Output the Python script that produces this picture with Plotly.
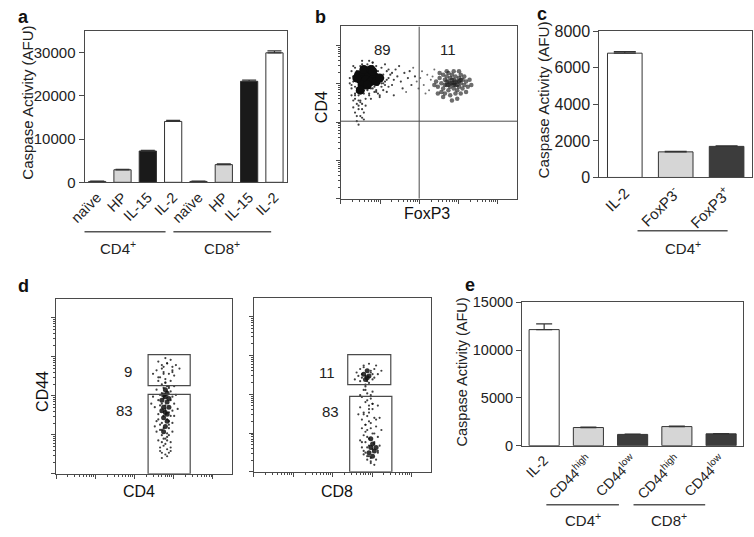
import math
import plotly.graph_objects as go

W, H = 754, 537
FONT = "Liberation Sans, Arial, Helvetica, sans-serif"
LINE = "#4a4a4a"

# ---------------- data ----------------
# Panel a
a_labels = ["naïve", "HP", "IL-15", "IL-2", "naïve", "HP", "IL-15", "IL-2"]
a_values = [200, 2900, 7250, 14100, 200, 4100, 23400, 30000]
a_errors = [60, 120, 150, 250, 60, 150, 300, 450]
a_colors = ["#ffffff", "#d6d6d6", "#1a1a1a", "#ffffff"] * 2
a_groups = ["CD4<sup>+</sup>", "CD8<sup>+</sup>"]
a_ticks = [0, 10000, 20000, 30000]

# Panel c
c_labels = ["IL-2", "FoxP3<sup>-</sup>", "FoxP3<sup>+</sup>"]
c_values = [6800, 1400, 1700]
c_errors = [90, 25, 30]
c_colors = ["#ffffff", "#d6d6d6", "#3c3c3c"]
c_groups = ["CD4<sup>+</sup>"]
c_ticks = [0, 2000, 4000, 6000, 8000]

# Panel e
e_labels = ["IL-2", "CD44<sup>high</sup>", "CD44<sup>low</sup>", "CD44<sup>high</sup>", "CD44<sup>low</sup>"]
e_values = [12150, 1900, 1180, 2000, 1240]
e_errors = [600, 40, 30, 40, 30]
e_colors = ["#ffffff", "#d6d6d6", "#3c3c3c", "#d6d6d6", "#3c3c3c"]
e_groups = ["CD4<sup>+</sup>", "CD8<sup>+</sup>"]
e_ticks = [0, 5000, 10000, 15000]

y_title = "Caspase Activity (AFU)"

# Panel b (flow: FoxP3 vs CD4), display units 0-100
b_quad_x, b_quad_y = 44.4, 45
b_pct = ["89", "11"]
b_pct_x = [23.3, 60.5]
b_pct_y = [86.5, 86.5]
b_core_x = [10, 13, 16, 19, 11, 14, 17, 20, 12, 15, 9, 22, 13, 17, 11, 18]
b_core_y = [72, 73, 72, 71, 69, 69, 68, 68, 66, 66, 70, 70, 75, 75, 63, 74]
b_neg_x = [6, 7, 8, 9, 10, 8, 9, 10, 8, 11, 12, 7, 11, 13, 14, 12, 10, 15, 16, 18, 20, 23, 24, 25, 26, 27,
           23, 20, 15, 11, 8, 5, 6, 28, 30, 32, 34, 36, 38, 40, 42, 31, 35, 39, 29, 18, 12, 9, 10, 13, 7, 30,
           26, 22, 33, 9, 11, 14, 6, 8, 24, 21, 17, 25, 27, 29, 19, 16, 5, 12,
           7, 9, 12, 15, 18, 21, 24, 6, 10, 14, 19, 23, 26, 8, 11, 16, 20, 25, 9, 13, 17, 22, 27, 7, 12,
           18, 24, 10, 15, 21]
b_neg_y = [74, 68, 65, 62, 60, 58, 55, 52, 50, 48, 55, 57, 62, 61, 58, 52, 57, 63, 61, 64, 63, 65, 72, 68, 74, 70,
           76, 77, 78, 77, 76, 70, 64, 72, 69, 71, 68, 73, 70, 66, 71, 75, 64, 74, 66, 79, 80, 45, 43, 46, 53, 60,
           62, 60, 77, 64, 56, 54, 60, 61, 67, 66, 64, 78, 65, 73, 62, 80, 67, 47,
           71, 74, 67, 76, 77, 74, 70, 66, 63, 64, 65, 67, 69, 60, 57, 60, 62, 66, 48, 50, 58, 59, 75, 77, 78,
           79, 63, 54, 71, 61]
b_pos_x = [54, 55, 56, 57, 58, 58, 59, 60, 60, 61, 61, 62, 62, 63, 63, 64, 64, 65, 65, 66, 66, 67, 67, 68, 68,
           69, 69, 70, 71, 72, 73, 57, 59, 62, 65, 68, 71, 56, 60, 64, 67, 55, 53, 74, 70, 66, 58, 63, 61, 59,
           62, 64, 66, 60, 63, 65, 67, 61, 68, 64]
b_pos_y = [68, 65, 70, 67, 64, 72, 69, 66, 71, 63, 68, 70, 65, 67, 72, 64, 69, 66, 71, 68, 63, 70, 65, 67, 72,
           64, 69, 66, 68, 65, 69, 62, 61, 60, 61, 61, 62, 73, 74, 74, 74, 61, 66, 66, 71, 58, 59, 57, 73, 66,
           67, 66, 66, 68, 69, 68, 68, 66, 69, 67]
b_mid_x = [45, 47, 49, 51, 44, 46, 48, 50, 52, 43, 37, 41, 53]
b_mid_y = [70, 66, 72, 69, 64, 74, 61, 63, 71, 68, 62, 76, 75]

# Panel d (flow: CD4 or CD8 vs CD44), display units 0-100
d_pct = [["9", "83"], ["11", "83"]]
d_pct_x = [[40.6, 38.9], [41.4, 43.1]]
d_pct_y = [[58.6, 35.9], [57.2, 34.4]]
d_gates = [[(52.2, 76.1, 50.3, 68.0), (52.2, 76.1, 0, 45.3)],
           [(53.0, 77.3, 50.0, 67.2), (54.1, 77.9, 0, 43.3)]]
d1_core_x = [62, 63, 61, 62, 63, 60, 64, 61, 63, 62, 60, 64, 62, 61, 63, 61]
d1_core_y = [44, 41, 38, 35, 46, 42, 38, 32, 30, 48, 36, 43, 27, 24, 34, 45]
d1_x = [58, 60, 63, 66, 57, 61, 64, 67, 59, 62, 65, 60, 63, 66, 55, 68, 70, 62, 65, 58, 61,
        57, 60, 65, 66, 58, 67, 59, 66, 58, 65, 57, 66, 59, 64, 60, 63, 58, 65, 61, 63, 60, 62,
        64, 59, 67, 56, 68, 55, 61, 62, 64, 59, 57, 66, 69, 54, 60, 63, 65, 58, 62, 67, 56, 64,
        60, 62, 64, 61, 63, 59, 65, 62, 60, 64, 61, 63, 62, 60, 65, 59, 63, 61, 64, 62, 58, 66,
        60, 63, 61, 62, 64, 60, 63, 61]
d1_y = [64, 62, 63, 61, 59, 58, 57, 56, 55, 54, 53, 51, 50, 59, 57, 62, 60, 66, 65, 53, 61,
        48, 46, 47, 44, 42, 40, 39, 36, 34, 33, 30, 29, 28, 26, 22, 21, 19, 18, 16, 14, 12, 11,
        22, 25, 33, 38, 45, 44, 20, 17, 12, 15, 24, 24, 37, 40, 9, 10, 13, 31, 52, 50, 27, 49,
        40, 37, 35, 33, 31, 45, 42, 39, 29, 28, 26, 23, 20, 18, 15, 13, 47, 49, 50, 52, 55, 58,
        60, 63, 43, 36, 30, 25, 19, 57]
d2_core_x = [62, 65, 63, 64, 66, 68, 67, 65, 69, 67, 66, 64]
d2_core_y = [56, 55, 53, 58, 14, 12, 16, 11, 14, 9, 19, 54]
d2_x = [58, 60, 61, 66, 67, 62, 65, 60, 68, 59, 70, 63, 57, 69, 72,
        62, 64, 61, 66, 63, 65, 60, 67, 62, 64, 68, 61, 66, 63, 69, 64, 67, 62, 70, 65, 63, 68,
        64, 70, 62, 66, 69, 64, 71, 61, 65, 70, 60, 67, 63, 72, 59, 66, 68, 65, 63, 71, 60, 67,
        63, 66, 61, 64, 67, 62, 65, 68, 63, 66, 64, 67, 65, 62, 69, 63, 66, 68, 64, 61, 65, 67,
        70, 62, 64, 66, 63, 68, 65, 61]
d2_y = [57, 59, 54, 57, 53, 61, 62, 52, 59, 55, 56, 50, 53, 61, 58,
        47, 45, 43, 42, 40, 38, 37, 36, 34, 32, 31, 30, 28, 27, 26, 24, 22, 21, 20, 19, 17, 17,
        14, 11, 12, 8, 7, 9, 15, 25, 34, 38, 44, 46, 49, 24, 33, 5, 4, 29, 23, 31, 18, 39,
        55, 58, 56, 52, 56, 60, 51, 54, 47, 44, 41, 39, 36, 33, 30, 27, 25, 22, 20, 17, 15, 13,
        12, 10, 7, 6, 11, 16, 9, 14]

# ---------------- helpers ----------------
def dom_x(p0, p1):
    return [p0 / W, p1 / W]

def dom_y(top, bottom):
    return [1 - bottom / H, 1 - top / H]

def py(p):
    return 1 - p / H

fig = go.Figure()
annotations = []
shapes = []

axis_common = dict(showline=True, linecolor=LINE, linewidth=1, mirror=True,
                   showgrid=False, zeroline=False)

def ptext(text, x, y, size, bold=False, angle=0, color="#111"):
    annotations.append(dict(text=("<b>%s</b>" % text) if bold else text, xref="paper", yref="paper",
                            x=x / W, y=py(y), showarrow=False, xanchor="center", yanchor="middle",
                            textangle=angle, font=dict(family=FONT, size=size, color=color)))

def bar_panel(idx, labels, values, errors, colors, yticks, ymax, xdom, ydom,
              capw, tickfont, xtickfont):
    n = len(labels)
    xs = list(range(n))
    sx = "" if idx == 1 else str(idx)
    fig.add_trace(go.Bar(
        x=xs, y=values, width=0.68,
        marker=dict(color=colors, line=dict(color="#333333", width=1)),
        error_y=dict(type="data", array=errors, arrayminus=[0] * n, symmetric=False,
                     color="#333333", thickness=1.2, width=capw),
        xaxis="x" + sx, yaxis="y" + sx, showlegend=False, hoverinfo="skip"))
    fig.layout["xaxis" + sx] = dict(
        domain=xdom, anchor="y" + sx, range=[-0.5, n - 0.5],
        tickvals=xs, ticktext=labels, tickangle=-45, ticks="",
        tickfont=dict(family=FONT, size=xtickfont, color="#222"), **axis_common)
    fig.layout["yaxis" + sx] = dict(
        domain=ydom, anchor="x" + sx, range=[0, ymax], tickvals=yticks,
        ticktext=[str(v) for v in yticks],
        ticks="outside", ticklen=5, tickcolor=LINE,
        tickfont=dict(family=FONT, size=tickfont, color="#222"),
        **axis_common)

def group_lines(sx, groups, spans, line_y, label_y):
    for g, (x0, x1) in zip(groups, spans):
        shapes.append(dict(type="line", xref="x" + sx, yref="paper", x0=x0, x1=x1,
                           y0=py(line_y), y1=py(line_y), line=dict(color="#555", width=1.5)))
        annotations.append(dict(text=g, xref="x" + sx, yref="paper", x=(x0 + x1) / 2, y=py(label_y),
                                showarrow=False, xanchor="center", yanchor="middle",
                                font=dict(family=FONT, size=15, color="#222")))

# decade ticks for flow axes
dec = 22.25
majors = [dec * k for k in range(5)]
minors = [dec * k + dec * math.log10(m) for k in range(4) for m in range(2, 10)]

def flow_axes(sx, xdom, ydom):
    ax = dict(range=[0, 100], tickvals=majors, ticks="outside", ticklen=4, tickcolor=LINE,
              showticklabels=False,
              minor=dict(tickvals=minors, ticks="outside", ticklen=2, tickcolor=LINE),
              **axis_common)
    fig.layout["xaxis" + sx] = dict(domain=xdom, anchor="y" + sx, **ax)
    fig.layout["yaxis" + sx] = dict(domain=ydom, anchor="x" + sx, **ax)

def dots(sx, xs, ys, size, opacity=1.0, color="#111"):
    fig.add_trace(go.Scatter(x=xs, y=ys, mode="markers", xaxis="x" + sx, yaxis="y" + sx,
                             marker=dict(size=size, color=color, opacity=opacity, line=dict(width=0)),
                             showlegend=False, hoverinfo="skip"))

# ---- panel a ----
bar_panel(1, a_labels, a_values, a_errors, a_colors, a_ticks, 35000,
          dom_x(70, 277), dom_y(24, 180), 7, 15, 14.5)
group_lines("", a_groups, [(-1.08, 2.7), (3.01, 6.87)], 231, 247)
ptext(y_title, 12, 98, 15, angle=-90, color="#222")

# ---- panel b ----
flow_axes("2", dom_x(332, 512), dom_y(19, 197))
dots("2", b_neg_x, b_neg_y, 2.2, 0.8)
dots("2", b_mid_x, b_mid_y, 2.0, 0.6)
dots("2", b_pos_x, b_pos_y, 4.5, 0.65, "#1e1e1e")
dots("2", b_core_x, b_core_y, 9, 1.0, "#0d0d0d")
shapes.append(dict(type="line", xref="x2", yref="y2", x0=b_quad_x, x1=b_quad_x, y0=0, y1=100,
                   line=dict(color=LINE, width=1)))
shapes.append(dict(type="line", xref="x2", yref="y2", x0=0, x1=100, y0=b_quad_y, y1=b_quad_y,
                   line=dict(color=LINE, width=1)))
for t, x, y in zip(b_pct, b_pct_x, b_pct_y):
    annotations.append(dict(text=t, xref="x2", yref="y2", x=x, y=y, showarrow=False,
                            font=dict(family=FONT, size=15, color="#222")))

# ---- panel c ----
bar_panel(3, c_labels, c_values, c_errors, c_colors, c_ticks, 8000,
          dom_x(596, 752), dom_y(24, 175), 11, 16, 15)
group_lines("3", c_groups, [(0.25, 2.02)], 230, 247)
ptext(y_title, 539, 95, 15.3, angle=-90, color="#222")

# ---- panel d ----
flow_axes("4", dom_x(41, 221), dom_y(300, 481))
flow_axes("5", dom_x(243, 424), dom_y(299, 479))
dots("4", d1_x, d1_y, 2.2, 0.8)
dots("4", d1_core_x, d1_core_y, 5, 0.85)
dots("5", d2_x, d2_y, 2.2, 0.8)
dots("5", d2_core_x, d2_core_y, 5, 0.85)
for sx, gates, pt, px_, py_ in zip(["4", "5"], d_gates, d_pct, d_pct_x, d_pct_y):
    for (x0, x1, y0, y1) in gates:
        shapes.append(dict(type="rect", xref="x" + sx, yref="y" + sx, x0=x0, x1=x1, y0=y0, y1=y1,
                           line=dict(color=LINE, width=1.2)))
    for t, x, y in zip(pt, px_, py_):
        annotations.append(dict(text=t, xref="x" + sx, yref="y" + sx, x=x, y=y, showarrow=False,
                                font=dict(family=FONT, size=15, color="#222")))

# ---- panel e ----
bar_panel(6, e_labels, e_values, e_errors, e_colors, e_ticks, 15000,
          dom_x(517, 743), dom_y(304, 452), 8, 14.5, 14)
group_lines("6", e_groups, [(0.05, 1.69), (2.02, 3.64)], 513, 528)
ptext(y_title, 456, 376, 14.5, angle=-90, color="#222")

# ---- text labels ----
for letter, x, y in [("a", 8, 9), ("b", 311, 9), ("c", 537, 6), ("d", 8, 287), ("e", 464, 286)]:
    ptext(letter, x, y, 18, bold=True)
ptext("CD4", 312, 102, 16, angle=-90)
ptext("FoxP3", 420, 212, 16)
ptext("CD44", 27, 396, 16, angle=-90)
ptext("CD4", 126, 499, 16)
ptext("CD8", 328, 499, 16)

fig.update_layout(width=W, height=H, margin=dict(l=0, r=0, t=0, b=0),
                  paper_bgcolor="white", plot_bgcolor="white",
                  annotations=annotations, shapes=shapes, bargap=0.3)

fig.write_html("out.html", config={"displayModeBar": False},
               post_script="document.body.style.margin='0';")
